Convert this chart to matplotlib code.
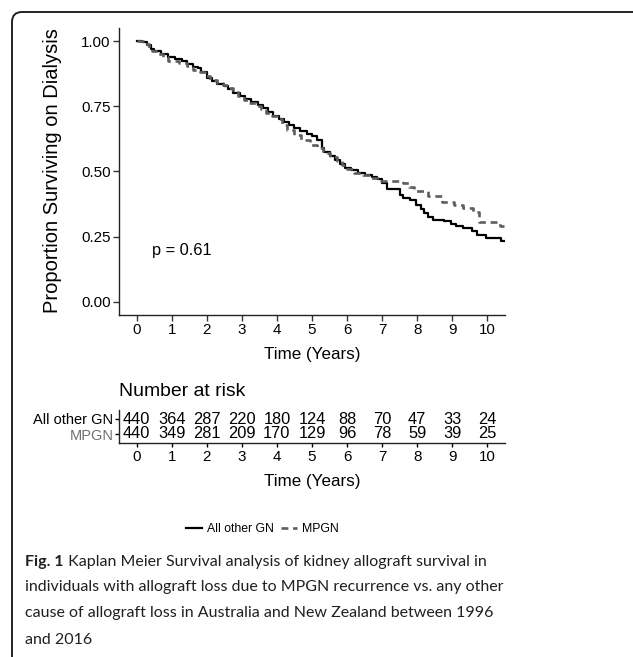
import matplotlib
matplotlib.use('Agg')
import matplotlib.pyplot as plt
from matplotlib import font_manager
from matplotlib.patches import FancyBboxPatch

# fonts: the reference looks like Arial Narrow, use it if it is there
names = {f.name for f in font_manager.fontManager.ttflist}
if 'Liberation Sans Narrow' in names:
    NARROW = 'Liberation Sans Narrow'
    k = 1.0
else:
    NARROW = 'Liberation Sans'
    k = 0.84
plt.rcParams['font.family'] = [NARROW, 'DejaVu Sans']
CAP_FONT = ['Lato', 'DejaVu Sans']

# Kaplan Meier steps (time in years, survival)
times_gn = [0.0, 0.15, 0.3, 0.4, 0.5, 0.7, 0.9, 1.1, 1.3, 1.45, 1.6, 1.75, 1.85,
            2.0, 2.15, 2.3, 2.5, 2.6, 2.75, 2.95, 3.1, 3.25, 3.45, 3.6, 3.75,
            3.9, 4.05, 4.2, 4.35, 4.5, 4.65, 4.85, 5.0, 5.15, 5.28, 5.35, 5.5,
            5.65, 5.8, 5.95, 6.1, 6.3, 6.5, 6.7, 6.85, 7.0, 7.15, 7.5, 7.6,
            7.8, 7.95, 8.1, 8.2, 8.3, 8.45, 8.75, 8.95, 9.1, 9.3, 9.55, 9.7,
            9.95, 10.4, 10.48]
surv_gn = [1.0, 0.995, 0.985, 0.97, 0.96, 0.95, 0.94, 0.932, 0.925, 0.912, 0.9,
           0.895, 0.88, 0.86, 0.845, 0.835, 0.828, 0.815, 0.8, 0.79, 0.778,
           0.765, 0.755, 0.745, 0.728, 0.712, 0.7, 0.69, 0.68, 0.668, 0.655,
           0.645, 0.635, 0.622, 0.59, 0.575, 0.56, 0.545, 0.53, 0.515, 0.505,
           0.495, 0.485, 0.478, 0.47, 0.455, 0.433, 0.41, 0.398, 0.39, 0.372,
           0.355, 0.34, 0.325, 0.315, 0.31, 0.3, 0.29, 0.282, 0.272, 0.255,
           0.245, 0.232, 0.232]

times_mpgn = [0.0, 0.2, 0.35, 0.45, 0.6, 0.75, 0.9, 1.2, 1.45, 1.6, 1.8, 1.95,
              2.1, 2.3, 2.45, 2.6, 2.75, 2.9, 3.05, 3.2, 3.4, 3.55, 3.7, 3.85,
              4.0, 4.15, 4.3, 4.5, 4.7, 4.95, 5.15, 5.3, 5.5, 5.7, 5.85, 6.0,
              6.2, 6.45, 6.65, 6.95, 7.6, 7.75, 7.9, 8.3, 8.7, 9.05, 9.3, 9.6,
              9.75, 10.35, 10.48]
surv_mpgn = [1.0, 0.99, 0.975, 0.96, 0.95, 0.94, 0.925, 0.915, 0.905, 0.89,
             0.88, 0.865, 0.85, 0.84, 0.83, 0.82, 0.805, 0.79, 0.775, 0.762,
             0.75, 0.738, 0.725, 0.712, 0.7, 0.68, 0.66, 0.64, 0.62, 0.6, 0.59,
             0.57, 0.555, 0.54, 0.525, 0.51, 0.495, 0.485, 0.475, 0.465, 0.455,
             0.44, 0.425, 0.405, 0.385, 0.372, 0.36, 0.345, 0.305, 0.29, 0.29]

group_names = ['All other GN', 'MPGN']
risk_times = [0, 1, 2, 3, 4, 5, 6, 7, 8, 9, 10]
risk_gn = [440, 364, 287, 220, 180, 124, 88, 70, 47, 33, 24]
risk_mpgn = [440, 349, 281, 209, 170, 129, 96, 78, 59, 39, 25]
y_ticks = [0.0, 0.25, 0.5, 0.75, 1.0]
p_text = 'p = 0.61'

caption_bold = 'Fig. 1'
caption_lines = [' Kaplan Meier Survival analysis of kidney allograft survival in',
                 'individuals with allograft loss due to MPGN recurrence vs. any other',
                 'cause of allograft loss in Australia and New Zealand between 1996',
                 'and 2016']

W, H = 633, 657


def fx(px):
    return px / W


def fy(py):
    return 1 - py / H


fig = plt.figure(figsize=(W / 100, H / 100), dpi=100)
renderer = fig.canvas.get_renderer()

# rounded frame, only top and left edges show
frame = FancyBboxPatch((0.12, -1.0), 10, H / 100 - 0.12 + 1.0,
                       boxstyle='round,pad=0,rounding_size=0.1',
                       transform=fig.dpi_scale_trans, fill=False,
                       ec='#222222', lw=1.4)
fig.add_artist(frame)

# main survival plot
ax = fig.add_axes([fx(119), fy(315), (505 - 119) / W, (315 - 28) / H])
l1, = ax.step(times_gn, surv_gn, where='post', color='black', lw=1.6,
              label=group_names[0])
l2, = ax.step(times_mpgn, surv_mpgn, where='post', color='#5e5e5e', lw=1.9,
              dashes=(2.6, 1.8), label=group_names[1])
ax.set_xlim(-0.5, 10.5)
ax.set_ylim(-0.05, 1.05)
ax.set_xticks(risk_times)
ax.set_yticks(y_ticks)
ax.set_yticklabels(['%.2f' % v for v in y_ticks])
for s in ['top', 'right']:
    ax.spines[s].set_visible(False)
for s in ['left', 'bottom']:
    ax.spines[s].set_linewidth(1.0)
    ax.spines[s].set_color('#222222')
ax.tick_params(length=4, width=1, color='#333333', labelsize=13 * k, pad=2)
ax.set_xlabel('Time (Years)', fontsize=14.6 * k)
ax.xaxis.set_label_coords(0.5, -0.113)
ax.text(0.43, 0.196, p_text, fontsize=14 * k, va='center', ha='left')

fig.text(fx(53), fy(171), 'Proportion Surviving on Dialysis', rotation=90,
         ha='center', va='center', fontsize=14.5, family='Liberation Sans')

# number at risk table
rax = fig.add_axes([fx(119), fy(443), (505 - 119) / W, 33 / H])
rax.set_xlim(-0.5, 10.5)
rax.set_ylim(0.4, 2.6)
for t, a, b in zip(risk_times, risk_gn, risk_mpgn):
    rax.text(t, 2, str(a), ha='center', va='center', fontsize=14 * k)
    rax.text(t, 1, str(b), ha='center', va='center', fontsize=14 * k)
rax.set_xticks(risk_times)
rax.set_yticks([2, 1])
rax.set_yticklabels(group_names)
rax.get_yticklabels()[1].set_color('#707070')
for s in ['top', 'right']:
    rax.spines[s].set_visible(False)
for s in ['left', 'bottom']:
    rax.spines[s].set_linewidth(1.0)
    rax.spines[s].set_color('#222222')
rax.tick_params(axis='x', length=3, width=1, labelsize=13 * k, pad=2)
rax.tick_params(axis='y', length=3, width=1, labelsize=12.5 * k, pad=1)
rax.set_xlabel('Time (Years)', fontsize=14.6 * k)
rax.xaxis.set_label_coords(0.5, -0.95)
rax.text(0, (443 - 391) / 33, 'Number at risk', transform=rax.transAxes,
         ha='left', va='center', fontsize=16.6 * k)

fig.legend(handles=[l1, l2], labels=group_names, loc='center',
           bbox_to_anchor=(fx(262), fy(529)), ncol=2, frameon=False,
           fontsize=10.5 * k, handlelength=1.3, handletextpad=0.4,
           columnspacing=0.6)

# caption, size chosen so the widest line spans about 480 px
probe = fig.text(0, 0, caption_lines[1], fontsize=10, family=CAP_FONT)
cap_size = 10 * 480 / probe.get_window_extent(renderer).width
probe.remove()

cap_y = [562, 587, 613, 640]
tb = fig.text(fx(25), fy(cap_y[0]), caption_bold, fontweight='bold',
              fontsize=cap_size, va='center', ha='left', color='#231f20',
              family=CAP_FONT)
bb = tb.get_window_extent(renderer)
fig.text(bb.x1 / W, fy(cap_y[0]), caption_lines[0], fontsize=cap_size,
         va='center', ha='left', color='#231f20', family=CAP_FONT)
for line, yy in zip(caption_lines[1:], cap_y[1:]):
    fig.text(fx(25), fy(yy), line, fontsize=cap_size, va='center', ha='left',
             color='#231f20', family=CAP_FONT)

fig.savefig('out.png', dpi=100)
